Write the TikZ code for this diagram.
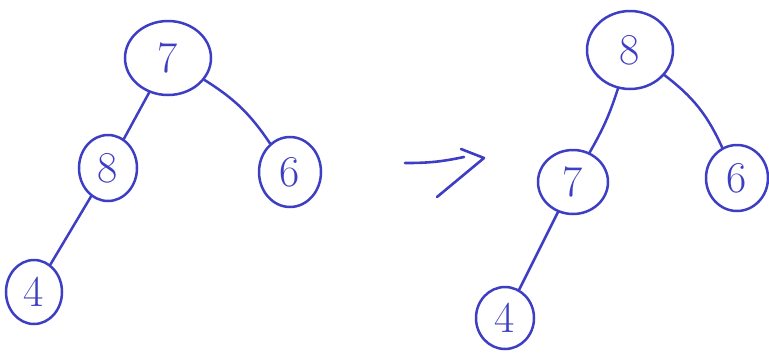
\documentclass[tikz,border=0pt]{standalone}
\usepackage{fontspec}
\usetikzlibrary{shapes.geometric}
\definecolor{ink}{RGB}{62,62,196}

\begin{document}
\begin{tikzpicture}[
    x=1pt, y=-1pt,
    font=\fontsize{44}{46}\selectfont,
    key/.style={
        ellipse, draw=ink, line width=2.5pt, text=ink,
        inner sep=0pt, minimum width=#1
    },
    key/.default=58pt,
    edge/.style={draw=ink, line width=2.5pt, line cap=round},
    line/.style={draw=ink, line width=2.6pt, line cap=round, line join=round}
]
\useasboundingbox (0,0) rectangle (769,354);

% Tree before the rotation
\node[key=86pt, minimum height=74pt] (lroot) at (168, 58) {7};
\node[key, minimum height=66pt] (lleft) at (108, 168) {8};
\node[key=62pt, minimum height=70pt] (lright) at (290, 172) {6};
\node[key=56pt, minimum height=64pt] (lleaf) at (34, 292) {4};

% Tree after the rotation
\node[key=86pt, minimum height=78pt] (rroot) at (630, 50) {8};
\node[key=70pt, minimum height=64pt] (rleft) at (573, 182) {7};
\node[key=62pt, minimum height=66pt] (rright) at (737, 178) {6};
\node[key, minimum height=62pt] (rleaf) at (505, 318) {4};

% Edges of both trees
\draw[edge] (lroot) -- (lleft);
\draw[edge] (lroot) to[bend left=12] (lright);
\draw[edge] (lleft) -- (lleaf);
\draw[edge] (rroot) to[bend left=6] (rleft);
\draw[edge] (rroot) to[bend left=14] (rright);
\draw[edge] (rleft) -- (rleaf);

% Hand-written arrow between the trees
\coordinate (arrtail) at (405, 163);
\coordinate (arrend) at (464, 157);
\coordinate (chevtop) at (461, 149);
\coordinate (arrtip) at (484, 158);
\coordinate (chevbot) at (437, 197);
\draw[line] (arrtail) to[bend right=6] (arrend);
\draw[line] (chevtop) -- (arrtip) -- (chevbot);

\end{tikzpicture}
\end{document}
